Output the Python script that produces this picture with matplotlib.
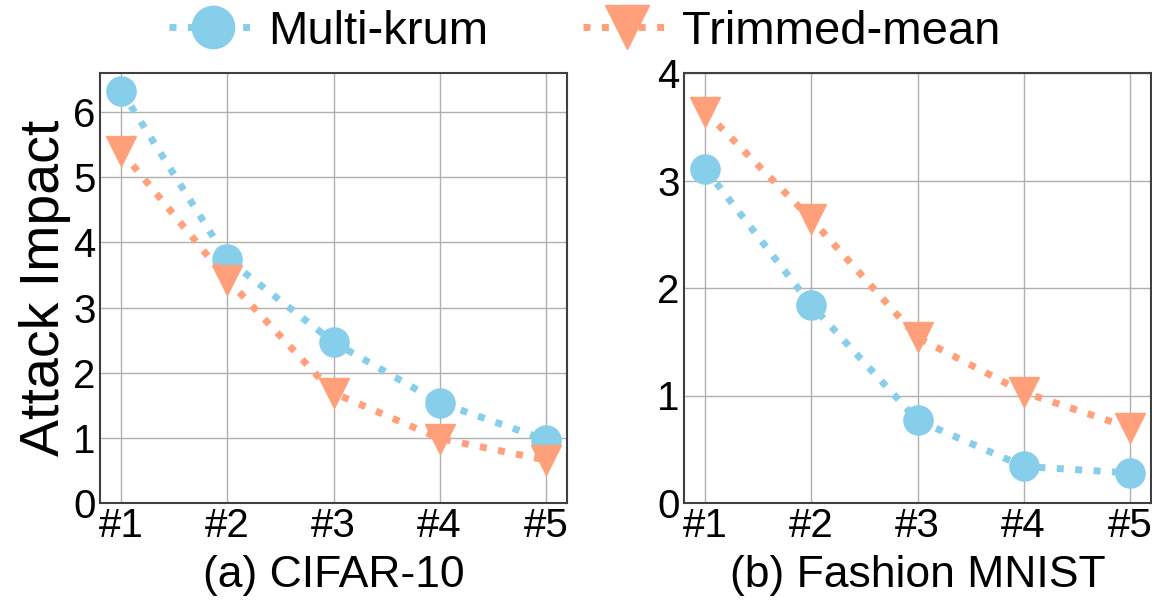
import matplotlib
matplotlib.use("Agg")
import matplotlib.pyplot as plt

categories = ["#1", "#2", "#3", "#4", "#5"]
cifar_multikrum = [6.33, 3.74, 2.47, 1.54, 0.97]
cifar_trimmed = [5.40, 3.43, 1.69, 0.99, 0.66]
fmnist_multikrum = [3.11, 1.84, 0.77, 0.34, 0.28]
fmnist_trimmed = [3.64, 2.64, 1.54, 1.03, 0.70]
subtitles = ["(a) CIFAR-10", "(b) Fashion MNIST"]
ylims = [6.6, 4.0]
yticks = [[0, 1, 2, 3, 4, 5, 6], [0, 1, 2, 3, 4]]

plt.rcParams['font.family'] = ['Liberation Sans', 'DejaVu Sans']

BLUE = "#87CEEB"
ORANGE = "#FFA07A"

fig = plt.figure(figsize=(11.52, 6.04), dpi=100)
ax1 = fig.add_axes([100/1152, 101/604, 467/1152, 430/604])
ax2 = fig.add_axes([684/1152, 101/604, 467/1152, 430/604])

x = list(range(len(categories)))
data = [(cifar_multikrum, cifar_trimmed), (fmnist_multikrum, fmnist_trimmed)]
handles = None
for i, ax in enumerate([ax1, ax2]):
    mk, tm = data[i]
    ax.grid(True, color="#b0b0b0", linewidth=1.0, zorder=0)
    h1, = ax.plot(x, mk, linestyle=":", color=BLUE, linewidth=5, marker="o",
                  markersize=21, label="Multi-krum", zorder=3)
    h2, = ax.plot(x, tm, linestyle=":", color=ORANGE, linewidth=5, marker="v",
                  markersize=22, label="Trimmed-mean", zorder=4)
    handles = [h1, h2]
    ax.set_xlim(-0.2, 4.2)
    ax.set_ylim(0, ylims[i])
    ax.set_xticks(x)
    ax.set_xticklabels(categories)
    ax.set_yticks(yticks[i])
    ax.tick_params(axis="both", length=0, labelsize=29)
    ax.tick_params(axis="x", pad=3)
    ax.tick_params(axis="y", pad=3)
    for s in ax.spines.values():
        s.set_color("#404040")
        s.set_linewidth(1.5)
    ax.set_xlabel(subtitles[i], fontsize=32, labelpad=7)
    ax.set_axisbelow(True)

ax1.set_ylabel("Attack Impact", fontsize=40, labelpad=2)

fig.legend(handles=handles, loc="center", bbox_to_anchor=(585/1152, 1 - 32/604),
           ncol=2, frameon=False, fontsize=34, markerscale=1.45,
           handlelength=1.85, handletextpad=0.25, columnspacing=2.0,
           borderaxespad=0)

fig.savefig("out.png", dpi=100, facecolor="white")
